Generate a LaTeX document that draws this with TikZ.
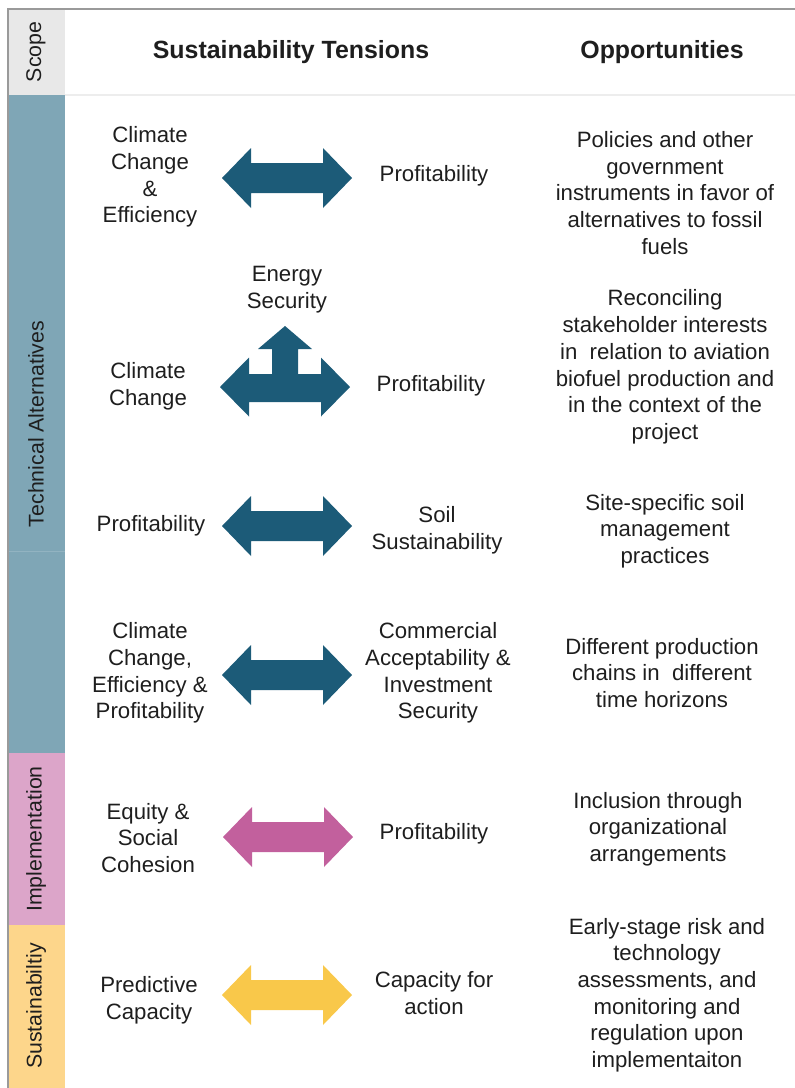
\documentclass[tikz,border=0pt]{standalone}
\usepackage{fontspec}
\setmainfont{Liberation Sans}
\definecolor{tealarrow}{HTML}{1C5B78}
\definecolor{tealcol}{HTML}{7FA6B6}
\definecolor{pinkarrow}{HTML}{C2609D}
\definecolor{pinkcol}{HTML}{DCA5C9}
\definecolor{yelarrow}{HTML}{F9C84A}
\definecolor{yelcol}{HTML}{FDD68B}
\definecolor{scopecol}{HTML}{E8E8E8}
\definecolor{framecol}{HTML}{9A9A9A}
\definecolor{txtcol}{HTML}{1E1E1E}
\newcommand{\dblarrow}[3]{% cx, cy, colour
  \fill[#3] (#1-65,#2) -- (#1-36,#2-30) -- (#1-36,#2-15) -- (#1+36,#2-15) -- (#1+36,#2-30)
    -- (#1+65,#2) -- (#1+36,#2+30) -- (#1+36,#2+15) -- (#1-36,#2+15) -- (#1-36,#2+30) -- cycle;}
\tikzset{
  txt/.style={align=center, inner sep=0pt, text=txtcol, font=\fontsize{22.2}{26.7}\selectfont},
  head/.style={inner sep=0pt, text=txtcol, font=\fontsize{24.9}{28}\selectfont\bfseries},
  side/.style={inner sep=0pt, rotate=90, text=txtcol, font=\fontsize{21.3}{25}\selectfont},
}
\begin{document}
\begin{tikzpicture}[x=1pt,y=-1pt]
\useasboundingbox (0,0) rectangle (795,1088);
% left column
\fill[scopecol] (8,9) rectangle (65,95);
\fill[tealcol] (8,95) rectangle (65,753);
\fill[pinkcol] (8,753) rectangle (65,925);
\fill[yelcol] (8,925) rectangle (65,1088);
\draw[tealcol!85!white, line width=0.8pt] (8,551) -- (65,551);
\draw[white!93!black, line width=1.2pt] (65,95) -- (795,95);
\draw[framecol, line width=1.6pt] (8,1088) -- (8,9) -- (795,9);
\node[side] (sc) at (36,52) {Scope};
\node[side] (ta) at (36,424) {Technical Alternatives};
\node[side] (im) at (36,839) {Implementation};
\node[side] (su) at (36,1006) {Sustainabiltiy};
% headers
\node[head] (h1) at (291,52) {Sustainability Tensions};
\node[head] (h2) at (662,52) {Opportunities};
% row 1
\dblarrow{287}{178}{tealarrow}
\node[txt] (l1) at (150,177) {Climate\\Change\\\&\\Efficiency};
\node[txt] (r1) at (434,176) {Profitability};
\node[txt] (o1) at (665,193) {Policies and other\\government\\instruments in favor of\\alternatives to fossil\\fuels};
% row 2
\fill[tealarrow] (220,387) -- (249,357.5) -- (249,374) -- (272,374) -- (272,349) -- (258,349)
  -- (285,326) -- (312,349) -- (298,349) -- (298,374) -- (321,374) -- (321,357.5)
  -- (350,387) -- (321,416.5) -- (321,402) -- (249,402) -- (249,416.5) -- cycle;
\node[txt] (e2) at (287,290) {Energy\\Security};
\node[txt] (l2) at (148,386) {Climate\\Change};
\node[txt] (r2) at (431,386) {Profitability};
\node[txt] (o2) at (665,367) {Reconciling\\stakeholder interests\\in~ relation to aviation\\biofuel production and\\in the context of the\\project};
% row 3
\dblarrow{287}{526}{tealarrow}
\node[txt] (l3) at (151,526) {Profitability};
\node[txt] (r3) at (437,530) {Soil\\Sustainability};
\node[txt] (o3) at (665,531) {Site-specific soil\\management\\practices};
% row 4
\dblarrow{287}{675}{tealarrow}
\node[txt] (l4) at (150,673) {Climate\\Change,\\Efficiency \&\\Profitability};
\node[txt] (r4) at (438,673) {Commercial\\Acceptability \&\\Investment\\Security};
\node[txt] (o4) at (662,673) {Different production\\chains in~ different\\time horizons};
% row 5
\dblarrow{288}{837}{pinkarrow}
\node[txt] (l5) at (148,838) {Equity \&\\Social\\Cohesion};
\node[txt] (r5) at (434,834) {Profitability};
\node[txt] (o5) at (658,829) {Inclusion through\\organizational\\arrangements};
% row 6
\dblarrow{287}{995}{yelarrow}
\node[txt] (l6) at (149,1000) {Predictive\\Capacity};
\node[txt] (r6) at (434,993) {Capacity for\\action};
\node[txt] (o6) at (667,995) {Early-stage risk and\\technology\\assessments, and\\monitoring and\\regulation upon\\implementaiton};
\end{tikzpicture}
\end{document}
